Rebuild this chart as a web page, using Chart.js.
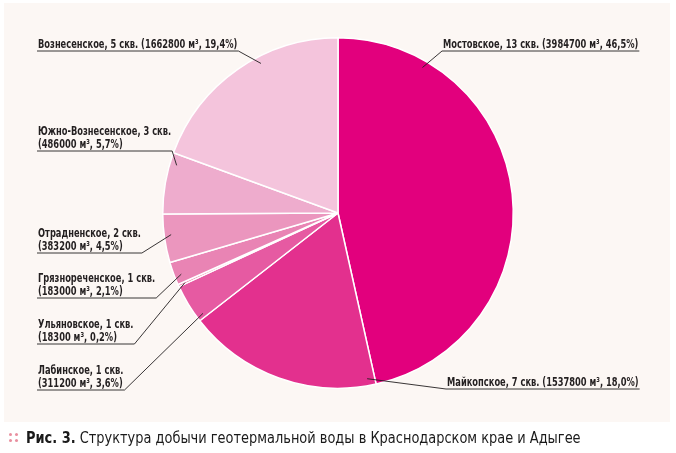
<!DOCTYPE html>
<html lang="ru">
<head>
<meta charset="utf-8">
<title>Рис. 3</title>
<script src="https://cdn.jsdelivr.net/npm/chart.js@4/dist/chart.umd.min.js"></script>
<style>
  html, body { margin: 0; padding: 0; background: #fff; }
  #wrap { position: relative; width: 676px; height: 453px; overflow: hidden; }
  #panel { position: absolute; left: 4px; top: 3px; width: 666px; height: 419px; background: #fcf7f4; }
  #chart { position: absolute; left: 0; top: 0; }
  #dots { position: absolute; left: 9px; top: 433px; width: 3px; height: 3px; border-radius: 50%;
          background: #e98f9f; box-shadow: 6px 0 0 #e98f9f, 0 6px 0 #e98f9f, 6px 6px 0 #e98f9f; }
  #caption {
    position: absolute; left: 26px; top: 428px;
    font-family: "DejaVu Sans Condensed", "Liberation Sans Narrow", sans-serif;
    font-size: 16px; color: #1a1a1a; white-space: nowrap;
    transform: scaleX(0.9); transform-origin: 0 0;
  }
  #caption b { font-weight: bold; }
</style>
</head>
<body>
<div id="wrap">
  <div id="panel"></div>
  <canvas id="chart" width="676" height="453"></canvas>
  <div id="dots"></div>
  <div id="caption"><b>Рис. 3.</b> Структура добычи геотермальной воды в Краснодарском крае и Адыгее</div>
</div>
<script>
// Fields, clockwise from 12 o'clock
const fields = ['Мостовское', 'Майкопское', 'Лабинское', 'Ульяновское', 'Грязнореченское', 'Отрадненское', 'Южно-Вознесенское', 'Вознесенское'];
const wells = [13, 7, 1, 1, 1, 2, 3, 5];
const volumes = [3984700, 1537800, 311200, 18300, 183000, 383200, 486000, 1662800];
const shares = ['46,5', '18,0', '3,6', '0,2', '2,1', '4,5', '5,7', '19,4'];

const sliceColors = ['#e2007d', '#e3308e', '#e65aa2', '#e7709f', '#e984b4', '#eb96be', '#eeaccd', '#f4c4dc'];

// Label layout: baseline of last line, line count,
// and where along the slice the leader line ends (t = fraction of the slice angle)
const labelLayout = [
    { x: 443, y: 48,  lines: 1, t: 0.18 },
    { x: 447, y: 386, lines: 1, t: 0.04 },
    { x: 38,  y: 387, lines: 2, t: 0.10 },
    { x: 38,  y: 341, lines: 2, t: 0.50 },
    { x: 38,  y: 295, lines: 2, t: 0.36 },
    { x: 38,  y: 250, lines: 2, t: 0.56 },
    { x: 38,  y: 148, lines: 2, t: 0.82 },
    { x: 38,  y: 48,  lines: 1, t: 0.61 }
];

const labelFont = 'bold 12px "DejaVu Sans Condensed", "Liberation Sans Narrow", sans-serif';
const textSqueeze = 0.77;

function labelLines(i) {
    const head = fields[i] + ', ' + wells[i] + ' скв.';
    const tail = '(' + volumes[i] + ' м³, ' + shares[i] + '%)';
    if (labelLayout[i].lines === 1) return [head + ' ' + tail];
    return [head, tail];
}

// Draw labels with underline and leader line to the slice
const leaderLabels = {
    id: 'leaderLabels',
    afterDatasetsDraw(chart) {
        const ctx = chart.ctx;
        const arcs = chart.getDatasetMeta(0).data;
        ctx.save();
        ctx.font = labelFont;
        ctx.fillStyle = '#231f20';
        ctx.strokeStyle = '#231f20';
        ctx.lineWidth = 0.9;
        ctx.textBaseline = 'alphabetic';
        arcs.forEach((arc, i) => {
            const lay = labelLayout[i];
            const lines = labelLines(i);
            const lh = 13.5;
            let w = 0;
            lines.forEach((ln, k) => {
                const y0 = lay.y - (lines.length - 1 - k) * lh;
                ctx.save();
                ctx.translate(lay.x, y0);
                ctx.scale(textSqueeze, 1);
                ctx.fillText(ln, 0, 0);
                ctx.restore();
                w = Math.max(w, ctx.measureText(ln).width * textSqueeze);
            });
            const uy = lay.y + 3;
            const p = arc.getProps(['x', 'y', 'startAngle', 'endAngle', 'outerRadius'], true);
            const ang = p.startAngle + (p.endAngle - p.startAngle) * lay.t;
            const r = p.outerRadius * 0.96;
            const ex = p.x + Math.cos(ang) * r;
            const ey = p.y + Math.sin(ang) * r;
            const rightSide = lay.x > p.x;
            const ux0 = lay.x - 1;
            const ux1 = lay.x + w + 1;
            ctx.beginPath();
            ctx.moveTo(ux0, uy);
            ctx.lineTo(ux1, uy);
            if (rightSide) {
                ctx.moveTo(ux0, uy);
            }
            ctx.lineTo(ex, ey);
            ctx.stroke();
        });
        ctx.restore();
    }
};

new Chart(document.getElementById('chart'), {
    type: 'pie',
    data: {
        labels: fields,
        datasets: [{
            data: volumes,
            backgroundColor: sliceColors,
            borderColor: '#ffffff',
            borderWidth: 1.5
        }]
    },
    options: {
        responsive: false,
        animation: false,
        layout: {
            padding: { top: 37, bottom: 64, left: 162, right: 162 }
        },
        plugins: {
            legend: { display: false },
            tooltip: { enabled: false }
        }
    },
    plugins: [leaderLabels]
});
</script>
</body>
</html>
